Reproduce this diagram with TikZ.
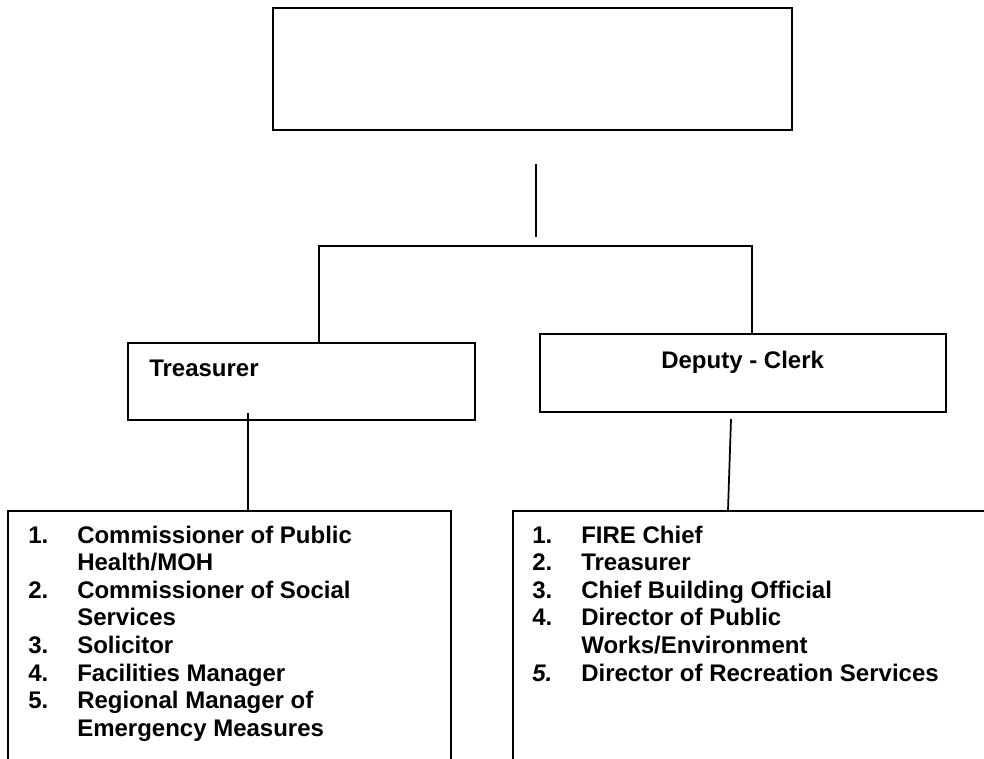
\documentclass[tikz,border=0pt]{standalone}
\usepackage{fontspec}
\setmainfont{Liberation Sans}
\usetikzlibrary{positioning}

\tikzset{
  box/.style={draw, line width=1.3pt, inner sep=0pt, anchor=north west},
  lbl/.style={font=\fontsize{18}{20.7}\selectfont\bfseries, inner sep=0pt, anchor=base west},
  wire/.style={line width=1.3pt}
}

\begin{document}
\begin{tikzpicture}[x=0.75pt,y=-0.75pt]
                  \useasboundingbox (0,0) rectangle (984,759);
                  \clip (0,0) rectangle (984,759);

                  % boxes
                  \node[box, minimum width=389.25pt, minimum height=91.5pt] (head) at (272,7) {};
                  \node[box, minimum width=260.25pt, minimum height=57.75pt] (treas) at (127,342) {};
                  \node[box, minimum width=304.5pt, minimum height=58.5pt] (deputy) at (539,333) {};
                  \node[box, minimum width=332.25pt, minimum height=195pt] (tlist) at (7,510) {};
                  \node[box, minimum width=366pt, minimum height=195pt] (dlist) at (512,510) {};

                  % texts
                  \node[lbl] (treastxt) at (149,376) {Treasurer};
                  \node[lbl] (deputytxt) at (661,368) {Deputy - Clerk};
                  \node[lbl] (tlisttxt) at (28,543) {\begin{tabular}[t]{@{}p{36.75pt}@{}l@{}}
                      1. & Commissioner of Public\\
                         & Health/MOH\\
                      2. & Commissioner of Social\\
                         & Services\\
                      3. & Solicitor\\
                      4. & Facilities Manager\\
                      5. & Regional Manager of\\
                         & Emergency Measures
                    \end{tabular}};
                  \node[lbl] (dlisttxt) at (532,543) {\begin{tabular}[t]{@{}p{36.75pt}@{}l@{}}
                      1. & FIRE Chief\\
                      2. & Treasurer\\
                      3. & Chief Building Official\\
                      4. & Director of Public\\
                         & Works/Environment\\
                      \itshape 5. & Director of Recreation Services
                    \end{tabular}};

                  % connectors
                  \coordinate (stemtop) at (536,164);
                  \coordinate (stembot) at (536,237);
                  \coordinate (barl) at (319,246);
                  \coordinate (barr) at (752,246);
                  \coordinate (tdrop) at (248,413);
                  \coordinate (ddrop) at (731,419);
                  \coordinate (dend) at (728,510);

                  \draw[wire] (stemtop) -- (stembot);
                  \draw[wire] (treas.north -| barl) -- (barl) -- (barr) -- (deputy.north -| barr);
                  \draw[wire] (tdrop) -- (tdrop |- tlist.north);
                  \draw[wire] (ddrop) -- (dend);

              \end{tikzpicture}
\end{document}
